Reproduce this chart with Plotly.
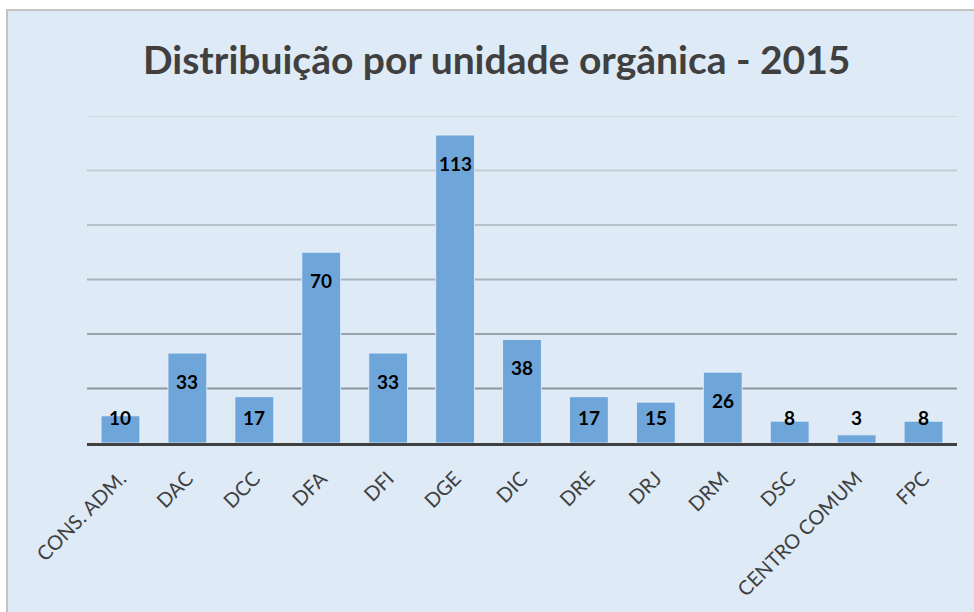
import plotly.graph_objects as go

categories = ["CONS. ADM.", "DAC", "DCC", "DFA", "DFI", "DGE", "DIC", "DRE", "DRJ", "DRM", "DSC", "CENTRO COMUM", "FPC"]
values = [10, 33, 17, 70, 33, 113, 38, 17, 15, 26, 8, 3, 8]
grid_levels = [20, 40, 60, 80, 100, 120]
grid_colors = ["#8c959d", "#9ba4ad", "#aab3bc", "#b8c1ca", "#c4cdd6", "#cfd8e1"]

W, H = 974, 612
ML, MR, MT, MB = 87, 17, 116, 169
PW, PH = W - ML - MR, H - MT - MB
YMAX = 120

def px_to_paper_x(px):
    return (px - ML) / PW

def px_to_paper_y(py):
    return (H - MB - py) / PH

fig = go.Figure()
fig.add_trace(go.Bar(
    x=categories, y=values,
    marker=dict(color="#6fa6da", line=dict(color="rgba(235,243,250,0.8)", width=1)),
    width=0.58, hoverinfo="x+y",
))

shapes = [dict(type="rect", xref="paper", yref="paper",
               x0=px_to_paper_x(7), x1=px_to_paper_x(W + 20),
               y0=px_to_paper_y(H + 20), y1=px_to_paper_y(10),
               fillcolor="#deeaf6", line=dict(color="#c3c3c3", width=2), layer="below")]
for lvl, col in zip(grid_levels, grid_colors):
    shapes.append(dict(type="line", xref="paper", yref="y", x0=0, x1=1, y0=lvl, y1=lvl,
                       line=dict(color=col, width=2), layer="below"))

annotations = []
for c, v in zip(categories, values):
    # label at inside end, clamped near the baseline for short bars
    ly = max(v - 10.3, 9.2)
    annotations.append(dict(x=c, y=ly, text="<b>" + str(v) + "</b>", showarrow=False,
                            xref="x", yref="y",
                            font=dict(family="Lato", size=19, color="#000000"),
                            yanchor="middle"))

fig.update_layout(
    width=W, height=H,
    margin=dict(l=ML, r=MR, t=MT, b=MB, autoexpand=False),
    paper_bgcolor="white",
    plot_bgcolor="rgba(0,0,0,0)",
    title=dict(text="<b>Distribuição por unidade orgânica - 2015</b>",
               x=0.51, xanchor="center", y=1 - 60 / H, yanchor="middle",
               font=dict(family="Lato", size=39, color="#404040")),
    showlegend=False,
    bargap=0.42,
    shapes=shapes,
    annotations=annotations,
    xaxis=dict(showgrid=False, showline=True, linecolor="#404040", linewidth=3,
               tickangle=-45, ticks="outside", ticklen=13, tickcolor="rgba(0,0,0,0)",
               automargin=False,
               tickfont=dict(family="Lato", size=20, color="#404040")),
    yaxis=dict(range=[0, YMAX], showgrid=False, zeroline=False, showticklabels=False,
               showline=False),
    font=dict(family="Lato"),
)

fig.write_html("out.html", config={"displayModeBar": False},
               post_script="document.body.style.margin='0';document.body.style.overflow='hidden';")
